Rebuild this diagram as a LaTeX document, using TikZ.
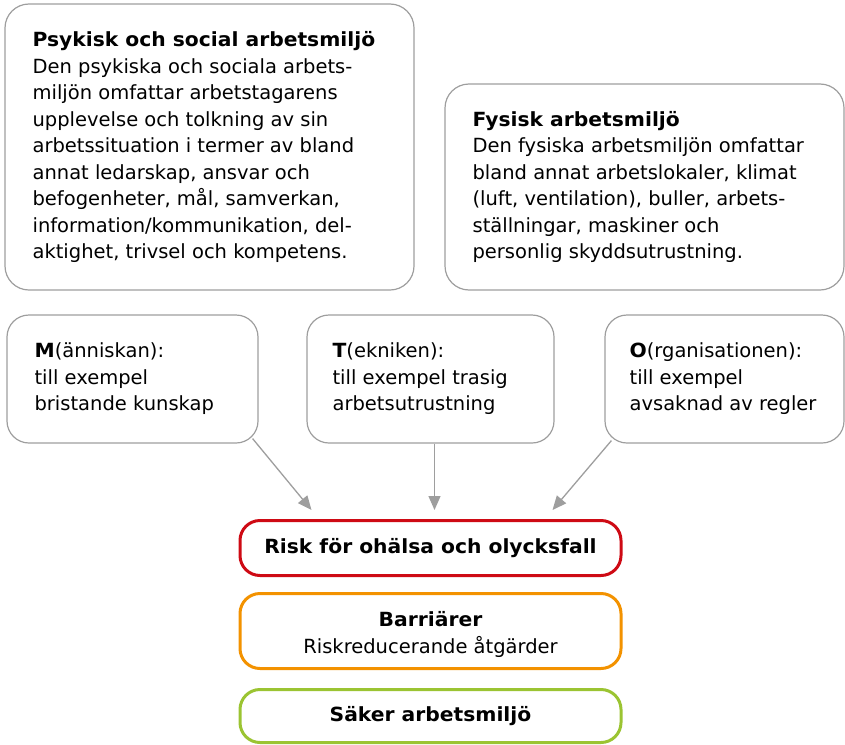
\documentclass[tikz,border=0pt]{standalone}
\usepackage{fontspec}
\setmainfont{DejaVu Sans}[BoldFeatures={FakeStretch=1.04}]
\usetikzlibrary{calc,positioning,arrows.meta}
\definecolor{boxgray}{RGB}{158,158,158}
\definecolor{riskred}{RGB}{206,10,20}
\definecolor{barorange}{RGB}{243,146,0}
\definecolor{safegreen}{RGB}{155,196,50}

\begin{document}
\begin{tikzpicture}[x=1pt,y=-1pt,
    graybox/.style={rectangle,draw=boxgray,line width=1.2pt,rounded corners=24pt},
    colbox/.style={rectangle,line width=3pt,rounded corners=20pt,minimum width=381pt,
      align=center,font=\fontsize{19.5}{27}\selectfont\bfseries},
    txt/.style={inner sep=0pt,align=left,font=\fontsize{19.5}{26.5}\selectfont},
    flow/.style={draw=boxgray,line width=1.3pt,-{Triangle[length=14pt,width=12pt]}}]
  \useasboundingbox(0,0)rectangle(845,744);
  \node[graybox,minimum width=409pt,minimum height=286pt](psyk)at(209.5,147){};
  \node[graybox,minimum width=399pt,minimum height=206pt](fys)at(644.5,187){};
  \node[graybox,rounded corners=22pt,minimum width=251pt,minimum height=128pt](m)at(132.5,379){};
  \node[graybox,rounded corners=22pt,minimum width=247pt,minimum height=128pt](t)at(430.5,379){};
  \node[graybox,rounded corners=22pt,minimum width=239pt,minimum height=128pt](o)at(724.5,379){};
  \node[txt,right=28pt of psyk.west](psyktxt){\textbf{Psykisk och social arbetsmiljö}\\Den psykiska och sociala arbets-\\miljön omfattar arbetstagarens\\upplevelse och tolkning av sin\\arbetssituation i termer av bland\\annat ledarskap, ansvar och\\befogenheter, mål, samverkan,\\information/kommunikation, del-\\aktighet, trivsel och kompetens.};
  \node[txt,right=28pt of fys.west](fystxt){\textbf{Fysisk arbetsmiljö}\\Den fysiska arbetsmiljön omfattar\\bland annat arbetslokaler, klimat\\(luft, ventilation), buller, arbets-\\ställningar, maskiner och\\personlig skyddsutrustning.};
  \node[txt,right=28pt of m.west](mtxt){\textbf{M}(änniskan):\\till exempel\\bristande kunskap};
  \node[txt,right=26pt of t.west](ttxt){\textbf{T}(ekniken):\\till exempel trasig\\arbetsutrustning};
  \node[txt,right=25pt of o.west](otxt){\textbf{O}(rganisationen):\\till exempel\\avsaknad av regler};
  \node[colbox,draw=riskred,minimum height=55pt](risk)at(430.5,548){Risk för ohälsa och olycksfall};
  \node[colbox,draw=barorange,minimum height=75pt](barr)at(430.5,631){\rule{0pt}{22pt}Barriärer\\\mdseries Riskreducerande åtgärder};
  \node[colbox,draw=safegreen,minimum height=53pt](saker)at(430.5,716){Säker arbetsmiljö};
  \draw[flow](m.south east)++(-6,-5)--($(risk.north west)+(73,-9)$);
  \draw[flow]([xshift=4pt]t.south)--([xshift=4pt,yshift=9pt]risk.north);
  \draw[flow](o.south west)++(7,-3)--($(risk.north east)+(-70,-9)$);
\end{tikzpicture}
\end{document}
